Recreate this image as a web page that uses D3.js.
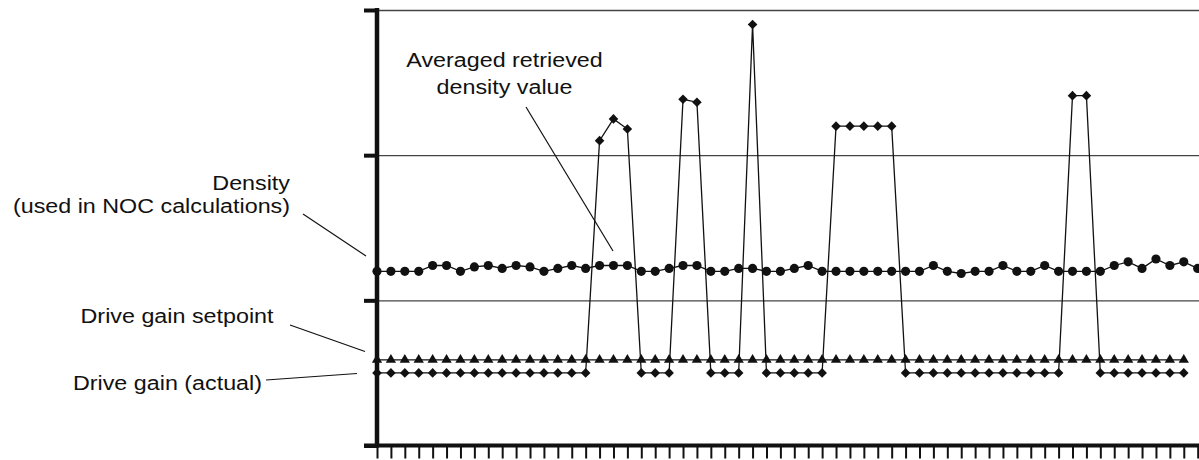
<!DOCTYPE html>
<html>
<head>
<meta charset="utf-8">
<script src="https://cdn.jsdelivr.net/npm/d3@7"></script>
<style>
    body { margin: 0; background: #fff; }
</style>
</head>
<body>
<div id="contenedorGrafico"></div>
<script>
// datos (unidades = divisiones de la rejilla)
const densidad = [1.20, 1.20, 1.20, 1.20, 1.24, 1.24, 1.20, 1.23, 1.24, 1.22,
    1.24, 1.23, 1.20, 1.22, 1.24, 1.22, 1.24, 1.24, 1.24, 1.20,
    1.20, 1.22, 1.24, 1.24, 1.20, 1.20, 1.22, 1.22, 1.20, 1.20,
    1.22, 1.24, 1.20, 1.20, 1.20, 1.20, 1.20, 1.20, 1.20, 1.20,
    1.24, 1.20, 1.185, 1.20, 1.20, 1.24, 1.20, 1.20, 1.24, 1.20,
    1.20, 1.20, 1.20, 1.24, 1.265, 1.22, 1.285, 1.24, 1.265, 1.22];
const gananciaConsigna = [0.59, 0.59, 0.59, 0.59, 0.59, 0.59, 0.59, 0.59, 0.59, 0.59,
    0.59, 0.59, 0.59, 0.59, 0.59, 0.59, 0.59, 0.59, 0.59, 0.59,
    0.59, 0.59, 0.59, 0.59, 0.59, 0.59, 0.59, 0.59, 0.59, 0.59,
    0.59, 0.59, 0.59, 0.59, 0.59, 0.59, 0.59, 0.59, 0.59, 0.59,
    0.59, 0.59, 0.59, 0.59, 0.59, 0.59, 0.59, 0.59, 0.59, 0.59,
    0.59, 0.59, 0.59, 0.59, 0.59, 0.59, 0.59, 0.59, 0.59];
const gananciaReal = [0.5, 0.5, 0.5, 0.5, 0.5, 0.5, 0.5, 0.5, 0.5, 0.5,
    0.5, 0.5, 0.5, 0.5, 0.5, 0.5, 2.10, 2.25, 2.18, 0.5,
    0.5, 0.5, 2.385, 2.365, 0.5, 0.5, 0.5, 2.90, 0.5, 0.5,
    0.5, 0.5, 0.5, 2.20, 2.20, 2.20, 2.20, 2.20, 0.5, 0.5,
    0.5, 0.5, 0.5, 0.5, 0.5, 0.5, 0.5, 0.5, 0.5, 0.5,
    2.41, 2.41, 0.5, 0.5, 0.5, 0.5, 0.5, 0.5, 0.5];
const marcasY = [0, 1, 2, 3];
const marcasX = d3.range(0, 60);

const ancho = 1199, alto = 460;
const ejeX = 377, baseY = 445.5, topeY = 10;
const paso = 13.91;
const fuente = "'Liberation Sans', Arial, Helvetica, sans-serif";
const negro = "#111";

const x = d3.scaleLinear().domain([0, 59]).range([ejeX, ejeX + 59 * paso]);
const y = d3.scaleLinear().domain([0, 3]).range([baseY, topeY]);

const $svg = d3.select("#contenedorGrafico")
    .append("svg")
    .attr("width", ancho)
    .attr("height", alto);

// rejilla horizontal
$svg.append("g")
    .attr("transform", `translate(${ejeX},0)`)
    .call(d3.axisRight(y).tickValues([1, 2, 3]).tickSize(ancho - ejeX).tickFormat(""))
    .call(g => g.select(".domain").remove())
    .call(g => g.selectAll(".tick line").attr("stroke", "#444").attr("stroke-width", 1.4));

// eje inferior
$svg.append("g")
    .attr("transform", `translate(0,${baseY})`)
    .call(d3.axisBottom(x).tickValues(marcasX).tickSize(13).tickSizeOuter(0).tickFormat(""))
    .call(g => g.select(".domain").attr("d", `M364,0H${ancho}`).attr("stroke", negro).attr("stroke-width", 4))
    .call(g => g.selectAll(".tick line").attr("stroke", negro).attr("stroke-width", 2));

// eje izquierdo
$svg.append("g")
    .attr("transform", `translate(${ejeX},0)`)
    .call(d3.axisLeft(y).tickValues(marcasY).tickSize(13).tickSizeOuter(0).tickFormat(""))
    .call(g => g.select(".domain").attr("d", `M0,${topeY - 2}V${baseY + 2}`).attr("stroke", negro).attr("stroke-width", 4.5))
    .call(g => g.selectAll(".tick line").attr("stroke", negro).attr("stroke-width", 4));

const linea = d3.line().x((d, i) => x(i)).y(d => y(d));

const dibujarSerie = (valores, simbolo, tamano, giro) => {
    $svg.append("path")
        .attr("d", linea(valores))
        .attr("fill", "none")
        .attr("stroke", negro)
        .attr("stroke-width", 1.3);
    $svg.append("g")
        .selectAll("path")
        .data(valores)
        .join("path")
        .attr("transform", (d, i) => `translate(${x(i)},${y(d)}) rotate(${giro})`)
        .attr("d", d3.symbol().type(simbolo).size(tamano))
        .attr("fill", negro);
};

dibujarSerie(densidad, d3.symbolCircle, 66, 0);
dibujarSerie(gananciaConsigna, d3.symbolTriangle, 46, 0);
dibujarSerie(gananciaReal, d3.symbolSquare, 46, 45);

// textos de las anotaciones
const escribir = (texto, px, py, ancla) => {
    $svg.append("text")
        .attr("transform", `translate(${px},${py}) scale(1.11,1)`)
        .attr("text-anchor", ancla)
        .attr("font-family", fuente)
        .attr("font-size", 21)
        .attr("fill", negro)
        .text(texto);
};

escribir("Averaged retrieved", 504.5, 66.5, "middle");
escribir("density value", 504.5, 94, "middle");
escribir("Density", 290, 190, "end");
escribir("(used in NOC calculations)", 290, 213, "end");
escribir("Drive gain setpoint", 273.5, 322.5, "end");
escribir("Drive gain (actual)", 262, 390, "end");

// lineas guia
const guias = [
    [526, 107, 613, 251],
    [303, 214, 366, 256],
    [290, 325, 365, 351.5],
    [266, 380, 357, 373.5]
];
$svg.append("g")
    .selectAll("line")
    .data(guias)
    .join("line")
    .attr("x1", d => d[0]).attr("y1", d => d[1])
    .attr("x2", d => d[2]).attr("y2", d => d[3])
    .attr("stroke", negro)
    .attr("stroke-width", 1.2);
</script>
</body>
</html>
